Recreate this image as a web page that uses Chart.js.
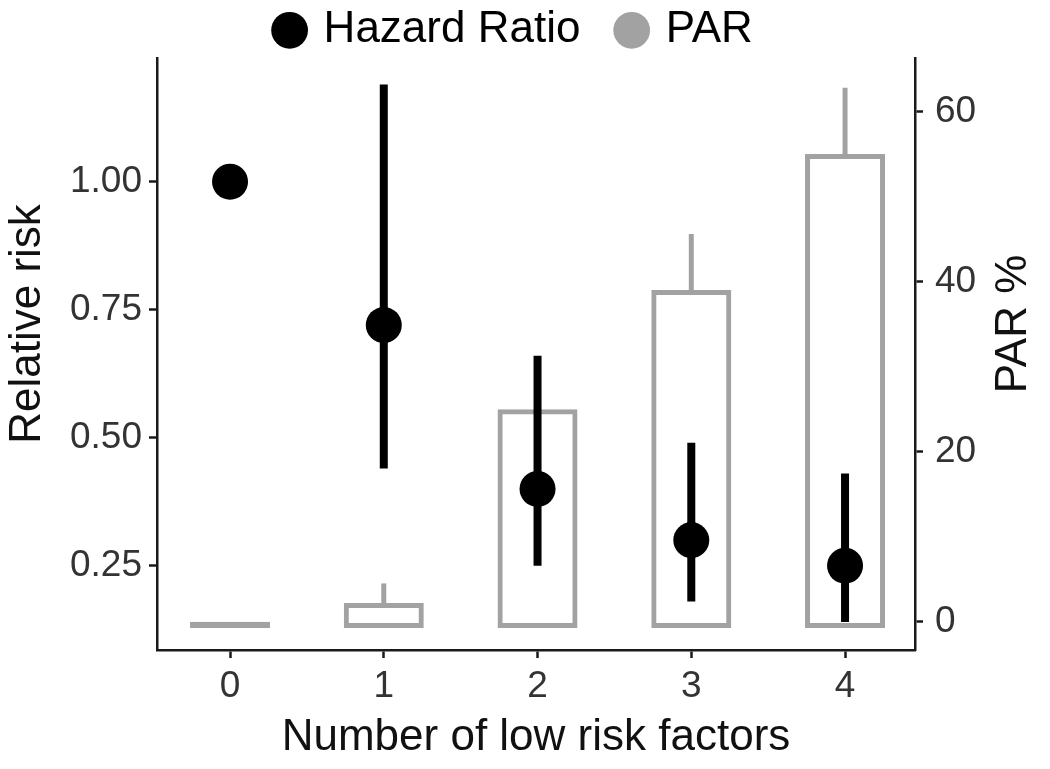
<!DOCTYPE html>
<html>
<head>
<meta charset="utf-8">
<script src="https://cdn.jsdelivr.net/npm/chart.js@4.4.1/dist/chart.umd.min.js"></script>
<style>
  html, body { margin: 0; padding: 0; background: #ffffff; }
  #wrap { width: 1050px; height: 769px; position: relative; }
</style>
</head>
<body>
<div id="wrap"><canvas id="c" width="1050" height="769"></canvas></div>
<script>
// ---- data ----
const factorLabels = ['0', '1', '2', '3', '4'];
const hrValues = [1.00, 0.72, 0.40, 0.30, 0.25];
const hrLower  = [1.00, 0.44, 0.25, 0.18, 0.14];
const hrUpper  = [1.00, 1.19, 0.66, 0.49, 0.43];
const parValues = [0, 2.2, 25.0, 39.0, 55.0];
const parUpper  = [0, 4.5, 30.0, 45.6, 62.8];
const rrTicks  = [0.25, 0.50, 0.75, 1.00];
const parTicks = [0, 20, 40, 60];
const seriesNames = ['Hazard Ratio', 'PAR'];
const axisTitles = { x: 'Number of low risk factors', y: 'Relative risk', y2: 'PAR %' };

// ---- styles ----
const BLACK = '#000000';
const GREY = '#a2a2a2';
const AXIS = '#1a1a1a';
const TICKTXT = '#333333';
const FONT = "'Liberation Sans', Arial, Helvetica, sans-serif";
const LEGEND_HEIGHT = 89;

const xs = factorLabels.map(Number);

const legendHeightPlugin = {
  id: 'legendHeight',
  beforeInit(chart) {
    const lg = chart.legend;
    if (!lg || lg._fixedFit) return;
    const orig = lg.fit;
    lg.fit = function () { orig.call(this); this.height = LEGEND_HEIGHT; };
    lg._fixedFit = true;
  }
};

const axisTitlePlugin = {
  id: 'rotatedAxisTitles',
  afterDraw(chart) {
    const ctx = chart.ctx;
    const area = chart.chartArea;
    const cy = (area.top + area.bottom) / 2 - 30;
    ctx.save();
    ctx.fillStyle = '#111111';
    ctx.font = '44px ' + FONT;
    ctx.textAlign = 'center';
    ctx.textBaseline = 'alphabetic';
    const ys = chart.scales.y;
    [[ys.left + 40, chart.options.scales.y.title.text],
     [chart.width - 24, chart.options.scales.y2.title.text]].forEach(([bx, txt]) => {
      ctx.save();
      ctx.translate(bx, cy);
      ctx.rotate(-Math.PI / 2);
      ctx.fillText(txt, 0, 0);
      ctx.restore();
    });
    ctx.restore();
  }
};

new Chart(document.getElementById('c'), {
  type: 'bar',
  data: {
    datasets: [
      {
        type: 'scatter',
        label: seriesNames[0],
        data: xs.map((x, i) => ({ x, y: hrValues[i] })),
        yAxisID: 'y',
        showLine: false,
        pointRadius: 18,
        pointHoverRadius: 18,
        pointBackgroundColor: BLACK,
        pointBorderWidth: 0,
        order: 0
      },
      {
        label: seriesNames[0] + ' CI',
        data: xs.map((x, i) => ({ x, y: [hrLower[i], hrUpper[i]] })),
        yAxisID: 'y',
        backgroundColor: BLACK,
        borderWidth: 0,
        inflateAmount: 0,
        barThickness: 8,
        grouped: false,
        order: 1
      },
      {
        label: seriesNames[1] + ' upper',
        data: xs.map((x, i) => ({ x, y: [parValues[i], parUpper[i]] })),
        yAxisID: 'y2',
        backgroundColor: GREY,
        borderWidth: 0,
        inflateAmount: 0,
        barThickness: 5,
        grouped: false,
        order: 2
      },
      {
        label: seriesNames[1],
        data: xs.map((x, i) => ({ x, y: parValues[i] })),
        yAxisID: 'y2',
        base: -0.75,
        backgroundColor: 'rgba(255,255,255,0)',
        borderColor: GREY,
        borderWidth: 5,
        borderSkipped: false,
        inflateAmount: 0,
        barThickness: 80,
        grouped: false,
        order: 3
      }
    ]
  },
  options: {
    responsive: false,
    animation: false,
    events: [],
    layout: { padding: { top: -31, right: 19.5, left: 0, bottom: 0 } },
    plugins: {
      tooltip: { enabled: false },
      legend: {
        display: true,
        position: 'top',
        align: 'center',
        labels: {
          usePointStyle: true,
          boxWidth: 24,
          boxHeight: 26,
          padding: 39.3,
          color: '#111111',
          font: { family: FONT, size: 44 },
          generateLabels: () => [
            { text: seriesNames[0], fillStyle: BLACK, strokeStyle: BLACK, lineWidth: 0, pointStyle: 'circle', hidden: false, datasetIndex: 0 },
            { text: seriesNames[1], fillStyle: GREY, strokeStyle: GREY, lineWidth: 0, pointStyle: 'circle', hidden: false, datasetIndex: 3 }
          ]
        }
      }
    },
    scales: {
      x: {
        type: 'linear',
        position: 'bottom',
        min: -0.475,
        max: 4.455,
        offset: false,
        afterBuildTicks: (s) => { s.ticks = xs.map(v => ({ value: v })); },
        afterFit: (s) => { s.height = 119; },
        ticks: {
          color: TICKTXT,
          font: { family: FONT, size: 37 },
          padding: 7,
          maxRotation: 0,
          callback: (v) => factorLabels[xs.indexOf(v)]
        },
        grid: { display: true, offset: false, drawOnChartArea: false, drawTicks: true, tickLength: 8, tickColor: AXIS, tickWidth: 2.5 },
        border: { display: true, color: AXIS, width: 2.5 },
        title: {
          display: true,
          text: axisTitles.x,
          color: '#111111',
          font: { family: FONT, size: 44 },
          padding: { top: 0, bottom: 5 }
        }
      },
      y: {
        type: 'linear',
        position: 'left',
        min: 0.0854,
        max: 1.2416,
        afterBuildTicks: (s) => { s.ticks = rrTicks.map(v => ({ value: v })); },
        afterFit: (s) => { s.width = 157; },
        ticks: {
          color: TICKTXT,
          font: { family: FONT, size: 37 },
          padding: 7,
          callback: (v) => Number(v).toFixed(2)
        },
        grid: { display: true, drawOnChartArea: false, drawTicks: true, tickLength: 8, tickColor: AXIS, tickWidth: 2.5 },
        border: { display: true, color: AXIS, width: 2.5 },
        title: { display: false, text: axisTitles.y }
      },
      y2: {
        type: 'linear',
        position: 'right',
        min: -3.33,
        max: 66.3,
        afterBuildTicks: (s) => { s.ticks = parTicks.map(v => ({ value: v })); },
        afterFit: (s) => { s.width = 115.5; },
        ticks: {
          color: TICKTXT,
          font: { family: FONT, size: 37 },
          padding: 12,
          callback: (v) => String(v)
        },
        grid: { display: true, drawOnChartArea: false, drawTicks: true, tickLength: 8, tickColor: AXIS, tickWidth: 2.5 },
        border: { display: true, color: AXIS, width: 2.5 },
        title: { display: false, text: axisTitles.y2 }
      }
    }
  },
  plugins: [legendHeightPlugin, axisTitlePlugin]
});
</script>
</body>
</html>
